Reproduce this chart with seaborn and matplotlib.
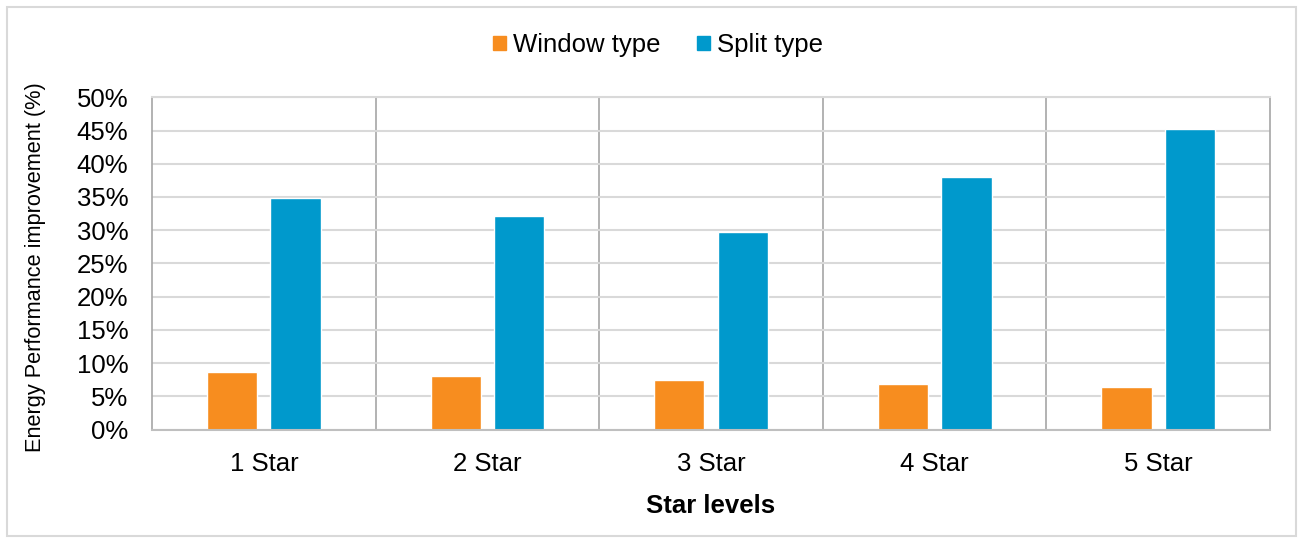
import matplotlib as mpl
mpl.use("Agg")
import matplotlib.pyplot as plt
import pandas as pd
import seaborn as sns
from matplotlib.patches import Rectangle
from matplotlib.ticker import PercentFormatter

levels = ["1 Star", "2 Star", "3 Star", "4 Star", "5 Star"]
window_type = [8.7, 8.0, 7.4, 6.8, 6.4]
split_type = [34.8, 32.1, 29.7, 38.0, 45.2]
series = ["Window type", "Split type"]
colors = ["#F78D1F", "#0099CC"]

sns.set_theme(style="white")
plt.rcParams["font.family"] = ["Liberation Sans", "DejaVu Sans"]
plt.rcParams["text.color"] = "black"
plt.rcParams["axes.labelcolor"] = "black"
plt.rcParams["xtick.color"] = "black"
plt.rcParams["ytick.color"] = "black"

df = pd.DataFrame({
    "Star levels": levels * 2,
    "value": window_type + split_type,
    "type": [series[0]] * 5 + [series[1]] * 5,
})

fig = plt.figure(figsize=(13.03, 5.43), dpi=100)
ax = fig.add_axes([0.1167, 0.209, 0.858, 0.6118])

sns.barplot(data=df, x="Star levels", y="value", hue="type", hue_order=series,
            palette=colors, width=0.568, gap=0.208, saturation=1,
            ax=ax, legend=True)

ax.set_ylim(0, 50)
ax.set_xlim(-0.5, 4.5)
ax.set_yticks(range(0, 51, 5))
ax.yaxis.set_major_formatter(PercentFormatter(decimals=0))
ax.grid(axis="y", color="#d9d9d9", linewidth=1.5)
ax.set_axisbelow(True)
for x in [0.5, 1.5, 2.5, 3.5]:
    ax.axvline(x, color="#a6a6a6", linewidth=1.2, zorder=0.5)

for side in ["left", "right"]:
    ax.spines[side].set_color("#a6a6a6")
    ax.spines[side].set_linewidth(1.2)
ax.spines["bottom"].set_color("#bfbfbf")
ax.spines["bottom"].set_linewidth(1.5)
ax.spines["top"].set_color("#d9d9d9")
ax.spines["top"].set_linewidth(1.5)

ax.tick_params(axis="y", length=0, pad=17, labelsize=18.5)
ax.tick_params(axis="x", length=0, pad=16, labelsize=18.5)
ax.set_xlabel("Star levels", fontsize=18.5, fontweight="bold", labelpad=13)
ax.set_ylabel("Energy Performance improvement (%)", fontsize=15.7)
ax.yaxis.set_label_coords(-0.095, 0.488)

ax.get_legend().remove()
handles = [Rectangle((0, 0), 1, 1, color=c) for c in colors]
fig.legend(handles, series, loc="center", bbox_to_anchor=(0.505, 0.917), ncol=2,
           frameon=False, fontsize=18.5, handlelength=0.5, handleheight=0.5,
           handletextpad=0.3, columnspacing=1.4)

fig.patches.append(Rectangle((7 / 1303, 7 / 543), 1289 / 1303, 529 / 543,
                             transform=fig.transFigure, fill=False,
                             edgecolor="#d9d9d9", linewidth=1.5))

fig.savefig("out.png", dpi=100)
